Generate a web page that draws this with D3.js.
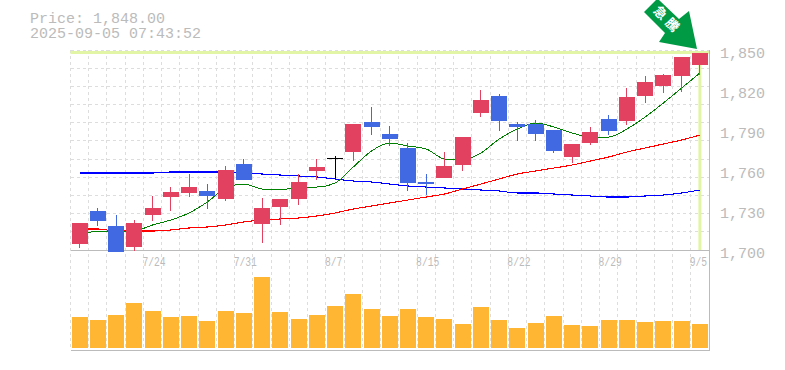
<!DOCTYPE html>
<html>
<head>
<meta charset="utf-8">
<script src="https://cdn.jsdelivr.net/npm/d3@7"></script>
<style>
  html, body { margin: 0; padding: 0; background: #fff; }
  svg { display: block; }
  text { font-family: "Liberation Mono", "DejaVu Sans Mono", monospace; fill: #bbb; }
</style>
</head>
<body>
<div class="canvas"></div>
<script>
// daily data
const dates = ["7/17","7/18","7/22","7/23","7/24","7/25","7/28","7/29","7/30","7/31","8/1","8/4","8/5","8/6","8/7","8/8","8/12","8/13","8/14","8/15","8/18","8/19","8/20","8/21","8/22","8/25","8/26","8/27","8/28","8/29","9/1","9/2","9/3","9/4","9/5"];
const opens = [1704.5,1729.5,1718,1702.5,1726.5,1740,1743,1744.5,1738.5,1764.5,1719.5,1732.5,1738.5,1759.5,1769,1773.5,1796,1787,1776.5,1751,1754,1764,1803,1815.5,1794.5,1794.5,1790,1770,1780.5,1798.5,1797,1815.5,1823,1830.5,1839];
const highs = [1720.5,1731.5,1726.5,1722.5,1740.5,1747.5,1757,1749.5,1763,1768.5,1739,1738.5,1757,1768.5,1770.5,1794.5,1807.5,1793,1780.5,1757,1773.5,1785,1820,1817,1796,1797.5,1790,1779.5,1792.5,1801.5,1821.5,1830.5,1832,1845,1848];
const lows = [1701.5,1718,1698.5,1699.5,1722,1729.5,1740,1731,1737,1752.5,1705.5,1719,1734,1752.5,1753.5,1767,1786.5,1778,1744.5,1741.5,1754,1759.5,1800,1789.5,1782,1782,1773,1765.5,1779,1786.5,1794,1810.5,1818,1818.5,1831.5];
const closes = [1720.5,1722,1698.5,1720.5,1731.5,1743.5,1747.5,1740.5,1760,1752.5,1731.5,1738.5,1751,1762.5,1769,1794.5,1792.5,1783.5,1750.5,1749.5,1763,1785,1812.5,1797,1792.5,1787,1774.5,1779.5,1788.5,1789.5,1815,1826,1831.5,1845,1848];
const volumes = [31,28,33,45,37,31,32,27,37,35,71,36,29,33,42,54,39,32,39,31,29,24,41,28,20,25,32,23,22,28,28,26,27,27,24];

// moving averages
const maShort = [1710.5,1714.25,1713.5,1714.25,1718.75,1722.5,1727.75,1736,1746.5,1749.5,1745.75,1745,1747.25,1747.25,1750.25,1762.25,1774.25,1780.25,1778,1775.75,1768.25,1767.5,1772.75,1783.25,1790.75,1795.25,1792.25,1787.75,1784.75,1784.75,1790.75,1799.75,1810.25,1821.5,1832.75];
const maMid = [1715.75,1715.75,1714.25,1714.25,1714.25,1715,1716.5,1717.25,1718.75,1721,1722.5,1723.25,1724,1725.5,1727.75,1730.75,1733,1735.25,1737.5,1739.75,1742,1745.75,1749.5,1753.25,1757,1759.25,1761.5,1763.75,1766.75,1769.75,1773.5,1776.5,1779.5,1782.5,1786.25];
const maLong = [1757.75,1757.75,1757.75,1757.75,1757.75,1758.5,1758.5,1758.5,1758.5,1757.75,1757,1756.25,1755.5,1754.75,1753.25,1751.75,1751,1749.5,1748,1747.25,1746.5,1745.75,1745,1744.25,1742.75,1742.75,1742,1741.25,1740.5,1739.75,1739.75,1740.5,1741.25,1742.75,1745];

const priceTicks = [1700,1730,1760,1790,1820,1850];
const dateTicks = ["7/24","7/31","8/7","8/15","8/22","8/29","9/5"];

const upColor = "#e2425f", downColor = "#4169e1";
const plotLeft = 70.5, plotRight = 709, plotTop = 50, plotBottom = 250, volBottom = 350, volBase = 348;

const svg = d3.select(".canvas").append("svg")
    .attr("width", 785)
    .attr("height", 370);

// scales
const x = d3.scaleBand().domain(d3.range(dates.length)).range([plotLeft, plotRight]);
const bodyWidth = 16;
const cx = i => x(i) + x.bandwidth() / 2;
const y = d3.scaleLinear().domain([1700, 1850]).range([plotBottom, plotTop]);
const yVol = d3.scaleLinear().domain([0, 71]).range([volBase, 277]);

// grid
const gridRows = d3.scaleLinear().domain([0, 11]).range([plotBottom, plotTop]);
const grid = svg.append("g")
    .attr("stroke", "#ddd")
    .attr("stroke-dasharray", "3,3")
    .attr("shape-rendering", "crispEdges");
grid.selectAll(".h").data(d3.range(12)).enter().append("line")
    .attr("x1", plotLeft).attr("x2", plotRight)
    .attr("y1", d => gridRows(d)).attr("y2", d => gridRows(d));
grid.selectAll(".v").data(d3.range(dates.length + 1)).enter().append("line")
    .attr("x1", d => plotLeft + d * x.step()).attr("x2", d => plotLeft + d * x.step())
    .attr("y1", plotTop).attr("y2", volBottom);

// latest price highlight
svg.append("rect").attr("x", plotLeft).attr("y", plotTop + 1).attr("width", plotRight - plotLeft).attr("height", 3).attr("fill", "#e2f5a6");
svg.append("rect").attr("x", cx(34) - 1.5).attr("y", plotTop + 1).attr("width", 3).attr("height", plotBottom - plotTop - 1).attr("fill", "#e2f5a6");

// frame
const frame = svg.append("g").attr("stroke", "#bbb").attr("shape-rendering", "crispEdges");
frame.append("line").attr("x1", plotLeft).attr("x2", plotRight + 1).attr("y1", plotBottom).attr("y2", plotBottom);
frame.append("line").attr("x1", plotLeft).attr("x2", plotRight + 1).attr("y1", volBottom).attr("y2", volBottom);
frame.append("line").attr("x1", plotRight + .5).attr("x2", plotRight + .5).attr("y1", plotTop).attr("y2", volBottom);

// moving average lines
const maLine = d3.line().x((d, i) => cx(i)).y(d => y(d)).curve(d3.curveMonotoneX);
[[maLong, "#0000ff", 1.1], [maMid, "#ff0000", 1.1], [maShort, "#008000", 1]].forEach(m => {
    svg.append("path")
        .attr("d", maLine(m[0]))
        .attr("fill", "none")
        .attr("stroke", m[1])
        .attr("stroke-width", m[2])
        .attr("shape-rendering", "crispEdges");
});

// candles
const candleColor = i => closes[i] > opens[i] ? upColor : closes[i] < opens[i] ? downColor : "#000";
const candles = svg.append("g").attr("shape-rendering", "crispEdges");
candles.selectAll(".wick").data(d3.range(dates.length)).enter().append("line")
    .attr("x1", cx).attr("x2", cx)
    .attr("y1", i => y(highs[i])).attr("y2", i => y(lows[i]))
    .attr("stroke", candleColor);
candles.selectAll(".body").data(d3.range(dates.length)).enter().append("rect")
    .attr("x", i => cx(i) - bodyWidth / 2)
    .attr("width", bodyWidth)
    .attr("y", i => y(Math.max(opens[i], closes[i])))
    .attr("height", i => Math.max(1, Math.abs(y(opens[i]) - y(closes[i]))))
    .attr("fill", candleColor);

// volume
svg.append("g").attr("shape-rendering", "crispEdges")
    .selectAll("rect").data(volumes).enter().append("rect")
    .attr("x", (d, i) => cx(i) - bodyWidth / 2)
    .attr("width", bodyWidth)
    .attr("y", d => yVol(d))
    .attr("height", d => volBase - yVol(d))
    .attr("fill", "#ffb733");

// axis labels
svg.selectAll(".price").data(priceTicks).enter().append("text")
    .attr("x", 720)
    .attr("y", d => y(d) + 8)
    .attr("font-size", 15)
    .text(d => d3.format(",")(d));
svg.selectAll(".date").data(dateTicks).enter().append("text")
    .attr("x", d => x(dates.indexOf(d)) - 1)
    .attr("y", 266)
    .attr("font-size", 12)
    .attr("textLength", d => d.length * 5.8)
    .attr("lengthAdjust", "spacingAndGlyphs")
    .text(d => d);

// header, two lines in one text
const header = svg.append("text").attr("font-size", 15);
header.append("tspan").attr("x", 30).attr("y", 23).text("Price: 1,848.00");
header.append("tspan").attr("x", 30).attr("y", 38).text("2025-09-05 07:43:52");

// arrow at the latest high
svg.append("path")
    .attr("d", "M644,12L656,0L659,0L679,19L689,11L697,49L659,42L665,33Z")
    .attr("fill", "#009944");
svg.append("text")
    .attr("transform", "translate(667,21) rotate(45)")
    .attr("text-anchor", "middle")
    .attr("dominant-baseline", "middle")
    .attr("letter-spacing", 4)
    .style("font-family", "'Noto Sans CJK JP'")
    .style("font-weight", "bold")
    .style("fill", "#fff")
    .attr("font-size", 13)
    .text("急騰");
</script>
</body>
</html>
